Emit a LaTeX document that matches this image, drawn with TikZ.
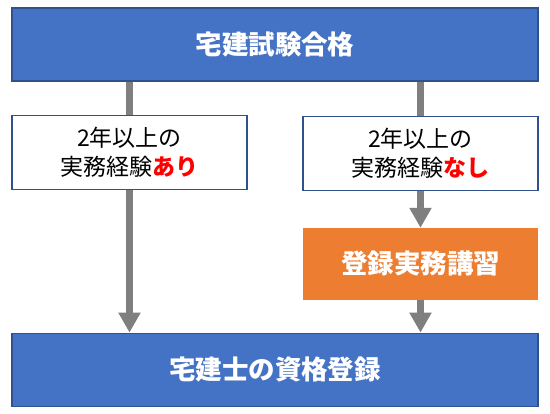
\documentclass[tikz,border=0pt]{standalone}
\usepackage{fontspec}
\setmainfont{Noto Sans CJK JP}
\usepackage{tikz}
\usetikzlibrary{arrows.meta,positioning}

\definecolor{officeblue}{HTML}{4472C4}
\definecolor{darkblue}{HTML}{2F528F}
\definecolor{officeorange}{HTML}{ED7D31}
\definecolor{linkgray}{HTML}{7F7F7F}
\definecolor{markred}{HTML}{FF0000}

\tikzset{
  widebox/.style={draw=darkblue,line width=1.2pt,fill=officeblue,text=white,
    font=\bfseries\fontsize{26.5pt}{30pt}\selectfont,minimum width=526pt,minimum height=73pt},
  casebox/.style={draw=darkblue,line width=1.2pt,fill=white,align=center,
    font=\fontsize{23pt}{29pt}\selectfont,minimum width=235pt,minimum height=74pt},
  coursebox/.style={draw=officeorange,line width=1.2pt,fill=officeorange,text=white,
    font=\bfseries\fontsize{26.5pt}{30pt}\selectfont,minimum width=233pt,minimum height=71pt},
  link/.style={draw=linkgray,line width=7pt},
  flow/.style={link,-{Triangle[length=20pt,width=21pt]}}
}

\begin{document}
\begin{tikzpicture}[x=1pt,y=-1pt]
\useasboundingbox[fill=white] (0,0) rectangle (550,414);
\node[widebox] (exam) at (275,44.5) {宅建試験合格};
\node[casebox,below right=33pt and 0pt of exam.south west] (withexp) {2年以上の\\実務経験\textcolor{markred}{\bfseries あり}};
\node[casebox,below left=34pt and 0pt of exam.south east] (noexp) {2年以上の\\実務経験\textcolor{markred}{\bfseries なし}};
\node[coursebox,below=37pt of noexp] (course) {登録実務講習};
\node[widebox,below=251pt of exam] (register) {宅建士の資格登録};
\draw[link] (exam.south -| withexp.north) -- (withexp.north);
\draw[link] (exam.south -| noexp.north) -- (noexp.north);
\draw[flow] (withexp.south) -- (withexp.south |- register.north);
\draw[flow] (noexp.south) -- (course.north);
\draw[flow] (course.south) -- (course.south |- register.north);
\end{tikzpicture}
\end{document}
